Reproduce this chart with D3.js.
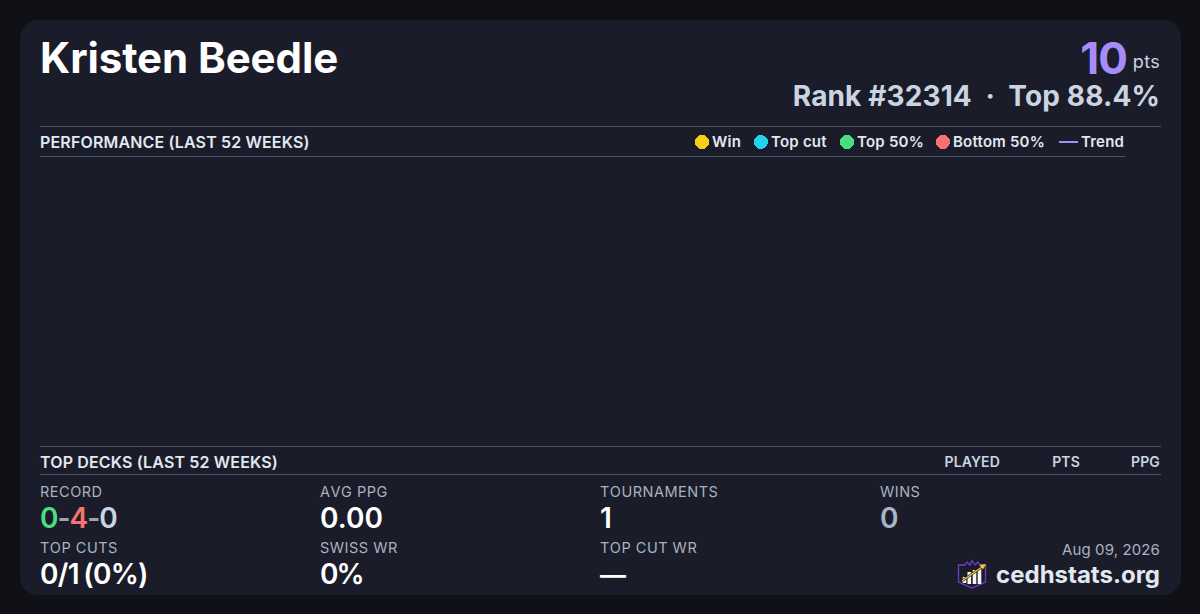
<!DOCTYPE html>
<html>
<head>
<meta charset="utf-8">
<script src="https://cdn.jsdelivr.net/npm/d3@7"></script>
<style>
html, body { margin: 0; padding: 0; background: #0f1116; }
svg { display: block; }
text { font-family: Inter, sans-serif; }
</style>
</head>
<body>
<script>
// chart values
var playerName = "Kristen Beedle";
var points = "10";
var rankLine = "Rank #32314  ·  Top 88.4%";
var legendLabels = ["Win", "Top cut", "Top 50%", "Bottom 50%", "Trend"];
var legendColors = ["#facc15", "#22d3ee", "#4ade80", "#f87171", "#a78bfa"];
var legendX = [702, 761, 847, 943, 1059];
var performanceWeeks = [];   // the chart area is empty in the reference
var deckColumns = ["PLAYED", "PTS", "PPG"];
var deckColumnX = [1000, 1080, 1160];
var statLabels = ["RECORD", "AVG PPG", "TOURNAMENTS", "WINS", "TOP CUTS", "SWISS WR", "TOP CUT WR"];
var statValues = [null, "0.00", "1", "0", "0/1 (0%)", "0%", "—"];
var recordParts = ["0", "-", "4", "-", "0"];
var recordColors = ["#4ade80", "#9ca3af", "#f87171", "#9ca3af", "#cbd5e1"];

var width = 1200, height = 614;

var svg = d3.select("body").append("svg")
    .attr("width", width)
    .attr("height", height);

// card
svg.append("rect")
    .attr("x", 20).attr("y", 20)
    .attr("width", 1161).attr("height", 575)
    .attr("rx", 18)
    .attr("fill", "#1a1d29");

// header
svg.append("text").attr("x", 40).attr("y", 73)
    .attr("font-size", 42).attr("font-weight", 700).attr("fill", "#ffffff")
    .style("letter-spacing", "-0.08px")
    .text(playerName);
svg.append("text").attr("x", 1160).attr("y", 68)
    .attr("text-anchor", "end").attr("font-size", 18).attr("fill", "#cbd5e1")
    .style("letter-spacing", "0.3px")
    .text("pts");
svg.append("text").attr("x", 1127).attr("y", 74)
    .attr("text-anchor", "end").attr("font-size", 44).attr("font-weight", 700).attr("fill", "#a78bfa")
    .style("letter-spacing", "-1px")
    .text(points);
svg.append("text").attr("x", 1160).attr("y", 106)
    .attr("text-anchor", "end").attr("font-size", 28).attr("font-weight", 700).attr("fill", "#cbd5e1")
    .style("white-space", "pre")
    .style("letter-spacing", "0.12px")
    .text(rankLine);

// section rules
var rules = [[40, 1161, 126.5], [40, 1125, 156.5], [40, 1161, 446.5], [40, 1161, 474.5]];
svg.selectAll("line.rule").data(rules).enter().append("line")
    .attr("class", "rule")
    .attr("x1", function(d){ return d[0]; })
    .attr("x2", function(d){ return d[1]; })
    .attr("y1", function(d){ return d[2]; })
    .attr("y2", function(d){ return d[2]; })
    .attr("stroke", "#475569").attr("stroke-width", 1);

// section titles
svg.append("text").attr("x", 40).attr("y", 148)
    .attr("font-size", 16).attr("font-weight", 600).attr("fill", "#e2e8f0")
    .style("letter-spacing", "0.15px")
    .text("PERFORMANCE (LAST 52 WEEKS)");
svg.append("text").attr("x", 40).attr("y", 468)
    .attr("font-size", 16).attr("font-weight", 600).attr("fill", "#e2e8f0")
    .style("letter-spacing", "0.15px")
    .text("TOP DECKS (LAST 52 WEEKS)");

// legend
var legend = svg.selectAll("g.legend").data(legendLabels).enter().append("g")
    .attr("class", "legend")
    .attr("transform", function(d, i){ return "translate(" + legendX[i] + ",142)"; });
legend.each(function(d, i){
    var g = d3.select(this);
    if (d === "Trend") {
        g.append("line").attr("x1", 0).attr("x2", 19)
            .attr("stroke", legendColors[i]).attr("stroke-width", 2);
        g.append("text").attr("x", 22).attr("y", 5)
            .attr("font-size", 15).attr("font-weight", 600).attr("fill", "#e2e8f0")
            .style("letter-spacing", "0.22px").text(d);
    } else {
        g.append("circle").attr("r", 7).attr("fill", legendColors[i])
            .attr("shape-rendering", "crispEdges");
        g.append("text").attr("x", 10).attr("y", 5)
            .attr("font-size", 15).attr("font-weight", 600).attr("fill", "#e2e8f0")
            .style("letter-spacing", "0.22px").text(d);
    }
});

// performance plot, no weeks to draw
var x = d3.scaleLinear().domain([0, 51]).range([40, 1125]);
var y = d3.scaleLinear().domain([0, 1]).range([446, 157]);
svg.append("g").selectAll("circle").data(performanceWeeks).enter().append("circle")
    .attr("cx", function(d){ return x(d.week); })
    .attr("cy", function(d){ return y(d.value); })
    .attr("r", 4);

// deck table header
svg.selectAll("text.deckcol").data(deckColumns).enter().append("text")
    .attr("class", "deckcol")
    .attr("x", function(d, i){ return deckColumnX[i]; })
    .attr("y", 467)
    .attr("text-anchor", "end")
    .attr("font-size", 14).attr("font-weight", 600).attr("fill", "#cbd5e1")
    .style("letter-spacing", "0.15px")
    .text(function(d){ return d; });

// stats grid
var col = d3.scaleLinear().domain([0, 1]).range([40, 320]);
var labelY = [497, 553], valueY = [528, 584];
var valueSpacing = ["-1px", "0.1px", "0", "0", "-0.7px", "-2px", "0"];
var stats = svg.selectAll("g.stat").data(statLabels).enter().append("g").attr("class", "stat")
    .attr("transform", function(d, i){ return "translate(" + col(i % 4) + ",0)"; });
stats.append("text")
    .attr("y", function(d, i){ return labelY[Math.floor(i / 4)]; })
    .attr("font-size", 14.5).attr("fill", "#aab2bf")
    .style("letter-spacing", "0.5px")
    .style("font-kerning", "none")
    .text(function(d){ return d; });
stats.append("text")
    .attr("y", function(d, i){ return valueY[Math.floor(i / 4)]; })
    .attr("font-size", function(d, i){ return i === 6 ? 26 : 28; })
    .attr("font-weight", 600)
    .attr("fill", function(d, i){ return i === 3 ? "#aab4c4" : "#ffffff"; })
    .style("letter-spacing", function(d, i){ return valueSpacing[i]; })
    .style("word-spacing", function(d, i){ return i === 4 ? "-2px" : null; })
    .each(function(d, i){
        if (statValues[i] !== null) {
            d3.select(this).text(statValues[i]);
        } else {
            d3.select(this).selectAll("tspan").data(recordParts).enter().append("tspan")
                .attr("fill", function(p, j){ return recordColors[j]; })
                .text(function(p){ return p; });
        }
    });

// footer
svg.append("text").attr("x", 1160).attr("y", 555)
    .attr("text-anchor", "end").attr("font-size", 15).attr("fill", "#aab2bf")
    .style("letter-spacing", "0.12px")
    .text("Aug 09, 2026");
svg.append("text").attr("x", 1160).attr("y", 583)
    .attr("text-anchor", "end").attr("font-size", 24).attr("font-weight", 700).attr("fill", "#e2e8f0")
    .text("cedhstats.org");

// logo
var logo = svg.append("g").attr("transform", "translate(958,560)");
logo.append("path")
    .attr("d", "M0.5,5 L7,5 L9,2 L12,5 L14,0.5 L17,5 L20,2 L22,5 L27.5,5 L27.5,22 L14,28 L0.5,22 Z")
    .attr("fill", "none").attr("stroke", "#6d3fc4").attr("stroke-width", 1.3);
var logoBars = [[4.7, 17, 3.6, 6], [9.5, 12, 3.6, 12], [14.7, 10, 3.6, 14], [19.7, 9, 3.6, 15]];
logo.selectAll("rect").data(logoBars).enter().append("rect")
    .attr("x", function(d){ return d[0]; })
    .attr("y", function(d){ return d[1]; })
    .attr("width", function(d){ return d[2]; })
    .attr("height", function(d){ return d[3]; })
    .attr("fill", "#f4f5f8");
logo.append("line").attr("x1", 4).attr("y1", 21).attr("x2", 24).attr("y2", 7)
    .attr("stroke", "#1a1d29").attr("stroke-width", 2.4);
logo.append("line").attr("x1", 4).attr("y1", 21).attr("x2", 24).attr("y2", 7)
    .attr("stroke", "#facc15").attr("stroke-width", 1.3);
logo.append("path").attr("d", "M28,4 L21.5,5 L25,9.5 Z").attr("fill", "#facc15");
</script>
</body>
</html>
